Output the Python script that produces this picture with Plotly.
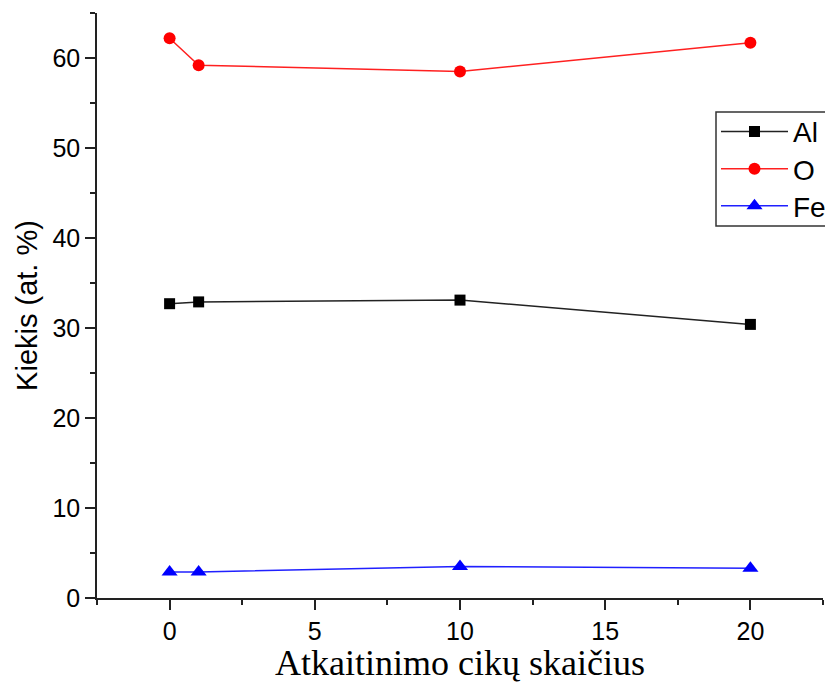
import plotly.graph_objects as go

cycles = [0, 1, 10, 20]
al = [32.7, 32.9, 33.1, 30.4]
o = [62.2, 59.2, 58.5, 61.7]
fe = [2.9, 2.9, 3.5, 3.3]

x_ticks = [0, 5, 10, 15, 20]
y_ticks = [0, 10, 20, 30, 40, 50, 60]

W, H = 825, 683
ML, MR, MT, MB = 97, 2, 13, 85
PW, PH = W - ML - MR, H - MT - MB

fig = go.Figure()
fig.add_trace(go.Scatter(x=cycles, y=al, name="Al", mode="lines+markers", legend="legend",
                         line=dict(color="#222222", width=1.5),
                         marker=dict(symbol="square", size=11, color="black")))
fig.add_trace(go.Scatter(x=cycles, y=o, name="O", mode="lines+markers", legend="legend2",
                         line=dict(color="#ff2020", width=1.5),
                         marker=dict(symbol="circle", size=12, color="red")))
fig.add_trace(go.Scatter(x=cycles, y=fe, name="Fe", mode="lines+markers", legend="legend3",
                         line=dict(color="#2020ff", width=1.5),
                         marker=dict(symbol="triangle-up", size=14, color="blue")))

axis_common = dict(
    showgrid=False, zeroline=False, showline=True, linecolor="#222222", linewidth=1.6,
    ticks="outside", ticklen=10, tickwidth=1.6, tickcolor="#222222",
    tickfont=dict(family="Liberation Sans, Arial", size=25, color="black"),
)

def leg(ypix):
    return dict(xref="container", yref="container", x=716 / W, y=1 - ypix / H,
                xanchor="left", yanchor="middle",
                bgcolor="rgba(0,0,0,0)", borderwidth=0,
                font=dict(family="Liberation Sans, Arial", size=28, color="black"),
                itemwidth=67)

fig.update_layout(
    width=W, height=H,
    margin=dict(l=ML, r=MR, t=MT, b=MB, autoexpand=False),
    plot_bgcolor="white", paper_bgcolor="white",
    xaxis=dict(range=[-2.5, 22.5], tickvals=x_ticks,
               minor=dict(ticks="outside", ticklen=5, tickwidth=1.6, tickcolor="#222222", dtick=2.5, tick0=-2.5),
               title=dict(text="Atkaitinimo cikų skaičius",
                          font=dict(family="Liberation Serif, Times New Roman", size=36, color="black"),
                          standoff=4),
               **axis_common),
    yaxis=dict(range=[0, 65], tickvals=y_ticks,
               minor=dict(ticks="outside", ticklen=5, tickwidth=1.6, tickcolor="#222222", dtick=5, tick0=0),
               title=dict(text="Kiekis (at. %)",
                          font=dict(family="Liberation Sans, Arial", size=29, color="black"),
                          standoff=6),
               **axis_common),
    showlegend=True,
    legend=leg(131.7),
    legend2=leg(169),
    legend3=leg(206),
    shapes=[dict(type="rect", xref="paper", yref="paper",
                 x0=(716 - ML) / PW, x1=(W + 20 - ML) / PW,
                 y0=(MT + PH - 226) / PH, y1=(MT + PH - 112) / PH,
                 line=dict(color="#333333", width=1.5), fillcolor="white", layer="below")],
)

fig.write_html("out.html")
